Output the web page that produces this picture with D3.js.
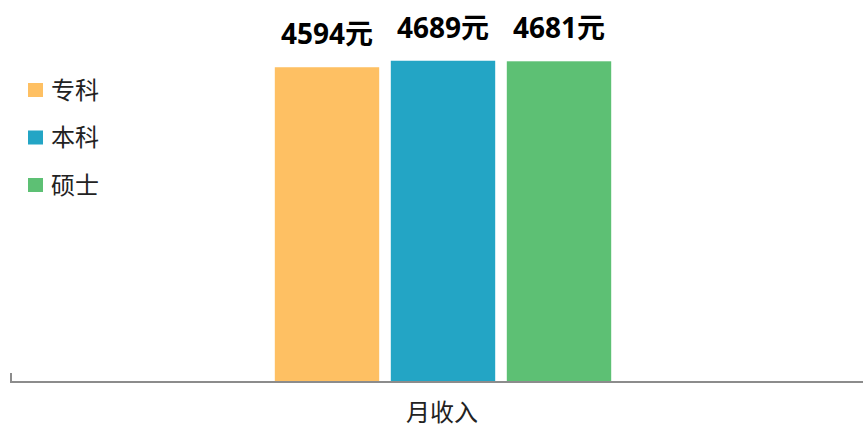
<!DOCTYPE html>
<html><head><meta charset="utf-8">
<script src="https://cdn.jsdelivr.net/npm/d3@7"></script>
<style>body{margin:0;background:#fff;}svg{display:block;}</style>
</head><body>
<svg id="c" width="863" height="428"></svg>
<script>
const series = ["专科", "本科", "硕士"];
const values = [4594, 4689, 4681];
const colors = ["#FEC063", "#23A5C5", "#5DC074"];
const category = "月收入";
const unit = "元";

const svg = d3.select("#c");
const font = "'Noto Sans CJK SC', 'Noto Sans', sans-serif";
const x = d3.scaleBand().domain(series).range([269, 617]).paddingInner(0.1).paddingOuter(0.05);
const y = d3.scaleLinear().domain([0, 4700]).range([381, 60]);

svg.selectAll("rect.bar").data(values).enter().append("rect")
  .attr("class", "bar")
  .attr("x", (d, i) => x(series[i]))
  .attr("width", x.bandwidth())
  .attr("y", d => y(d))
  .attr("height", d => y(0) - y(d))
  .attr("fill", (d, i) => colors[i]);

svg.selectAll("text.lbl").data(values).enter().append("text")
  .attr("class", "lbl")
  .attr("x", (d, i) => x(series[i]) + x.bandwidth() / 2)
  .attr("y", d => y(d) - 23)
  .attr("text-anchor", "middle")
  .attr("font-family", "'Open Sans', 'Noto Sans CJK SC', sans-serif")
  .attr("font-weight", "bold")
  .attr("font-size", 28)
  .attr("fill", "#000")
  .text(d => d + unit);

// axis
svg.append("line").attr("x1", 11).attr("x2", 863).attr("y1", y(0) + 1).attr("y2", y(0) + 1)
  .attr("stroke", "#8c8c8c").attr("stroke-width", 2);
svg.append("line").attr("x1", 11).attr("x2", 11).attr("y1", 373).attr("y2", 383)
  .attr("stroke", "#8c8c8c").attr("stroke-width", 2);

svg.append("text").attr("x", 442).attr("y", 421).attr("text-anchor", "middle")
  .attr("font-family", font).attr("font-size", 24).attr("fill", "#222").text(category);

// legend
const lg = svg.selectAll("g.lg").data(series).enter().append("g").attr("class", "lg")
  .attr("transform", (d, i) => `translate(28, ${90 + i * 47.5})`);
lg.append("rect").attr("x", 0).attr("y", -7).attr("width", 15).attr("height", 14)
  .attr("fill", (d, i) => colors[i]);
lg.append("text").attr("x", 23).attr("y", 8.5).attr("font-family", font).attr("font-size", 24)
  .attr("fill", "#222").text(d => d);
</script>
</body></html>
